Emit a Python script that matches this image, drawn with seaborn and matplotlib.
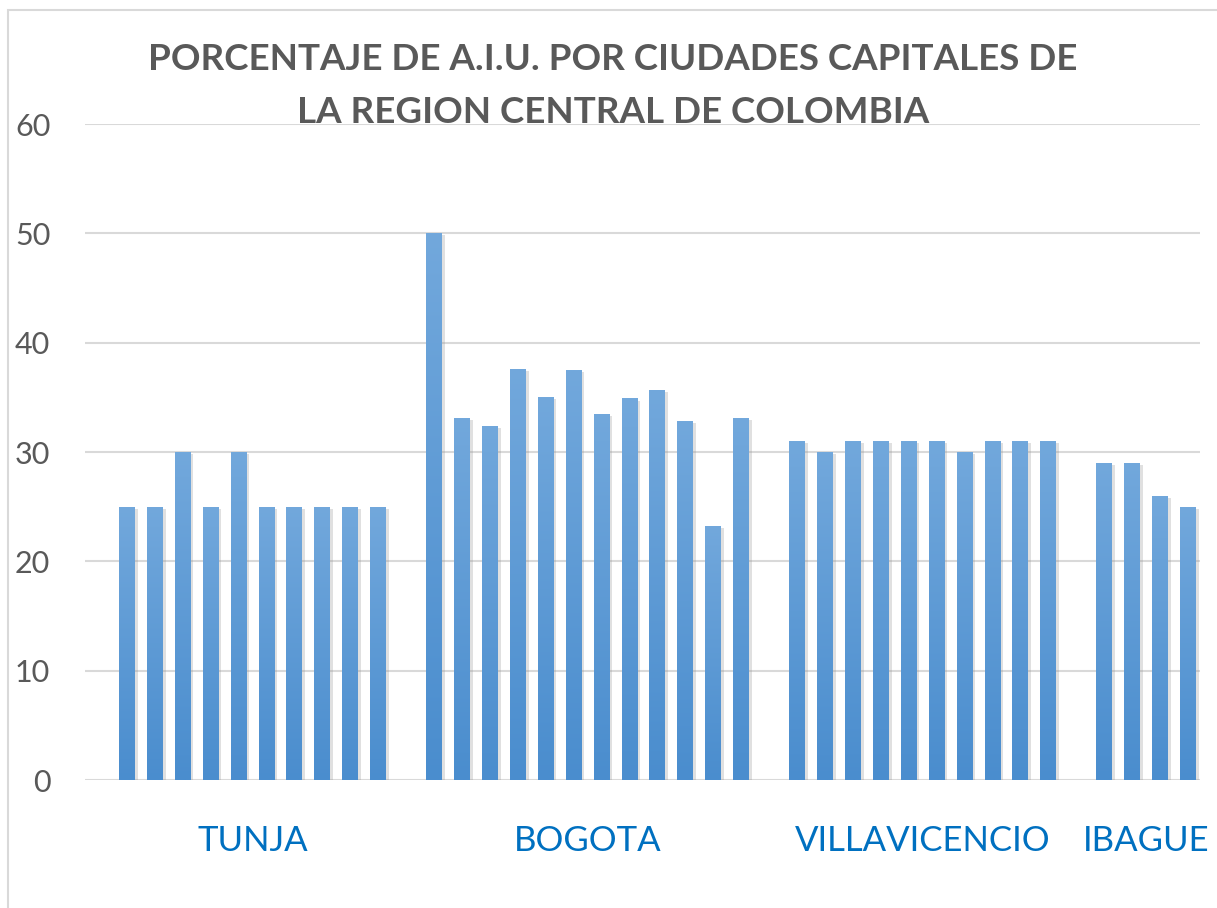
import numpy as np
import pandas as pd
import matplotlib
matplotlib.use("Agg")
import matplotlib.pyplot as plt
import matplotlib.patheffects as pe
from matplotlib.colors import LinearSegmentedColormap
from matplotlib.patches import Rectangle
import seaborn as sns

# ---- Data
cities = ["TUNJA", "BOGOTA", "VILLAVICENCIO", "IBAGUE"]
tunja = [25, 25, 30, 25, 30, 25, 25, 25, 25, 25]
bogota = [50, 33.1, 32.4, 37.6, 35.0, 37.5, 33.5, 34.9, 35.7, 32.8, 23.2, 33.1]
villavicencio = [31, 30, 31, 31, 31, 31, 30, 31, 31, 31]
ibague = [29, 29, 26, 25]
yticks = [0, 10, 20, 30, 40, 50, 60]
title = "PORCENTAJE DE A.I.U. POR CIUDADES CAPITALES DE\nLA REGION CENTRAL DE COLOMBIA"

series = [tunja, bogota, villavicencio, ibague]

# one empty slot between cities, like the Excel source
rows, order, centers = [], [], []
for i, (city, vals) in enumerate(zip(cities, series)):
    start = len(order)
    for j, v in enumerate(vals):
        slot = f"{city} {j + 1}"
        order.append(slot)
        rows.append({"slot": slot, "value": v, "city": city})
    centers.append((start + len(order) - 1) / 2)
    if i < len(cities) - 1:
        order.append(f"gap {i}")
df = pd.DataFrame(rows)

GRAY = "#595959"
GRID = "#D9D9D9"
BLUE_TXT = "#0070C0"

sns.set_theme(style="white")
plt.rcParams["font.family"] = ["Lato", "DejaVu Sans"]

fig = plt.figure(figsize=(12.17, 9.08), dpi=100)
ax = fig.add_axes([85 / 1217, 1 - 780 / 908, (1200 - 85) / 1217, (780 - 124) / 908])

sns.barplot(data=df, x="slot", y="value", order=order, color="#5B9BD5",
            width=0.57, errorbar=None, ax=ax, zorder=3)

# gradient fill + soft shadow for each bar
cmap = LinearSegmentedColormap.from_list("bar", ["#4A8DCE", "#72A8DC"])
grad = np.linspace(0, 1, 256).reshape(-1, 1)
for p in list(ax.patches):
    h = p.get_height()
    if not np.isfinite(h) or h <= 0:
        continue
    x0 = p.get_x()
    w = p.get_width()
    p.set_edgecolor("none")
    p.set_path_effects([pe.SimplePatchShadow(offset=(2, -1.5), shadow_rgbFace="#9a9a9a",
                                             alpha=0.3), pe.Normal()])
    im = ax.imshow(grad, extent=[x0, x0 + w, 0, h], origin="lower",
                   aspect="auto", cmap=cmap, zorder=3.5)
    im.set_clip_path(p)

ax.set_xlim(-1.5, len(order) - 1 + 0.43)
ax.set_ylim(0, 60)
ax.set_yticks(yticks)
ax.yaxis.grid(True, color=GRID, linewidth=1.5, zorder=0)
ax.set_axisbelow(True)
for s in ax.spines.values():
    s.set_visible(False)
ax.tick_params(axis="y", length=0, pad=25, labelsize=22, labelcolor=GRAY)
ax.set_xticks([])
ax.set_xlabel("")
ax.set_ylabel("")

for city, c in zip(cities, centers):
    ax.text(c, -5.6, city, ha="center", va="center", fontsize=25,
            color=BLUE_TXT, transform=ax.transData, clip_on=False)

fig.text(613 / 1217, 1 - 86 / 908, title, ha="center", va="center",
         fontsize=26.5, fontweight="bold", color=GRAY, linespacing=1.72)

# thin chart-area border
fig.patches.append(Rectangle((8 / 1217, -0.01), 1.02, 1 - 10 / 908 + 0.01,
                             transform=fig.transFigure, fill=False,
                             edgecolor=GRID, linewidth=1.5))

fig.savefig("out.png", dpi=100, facecolor="white")
